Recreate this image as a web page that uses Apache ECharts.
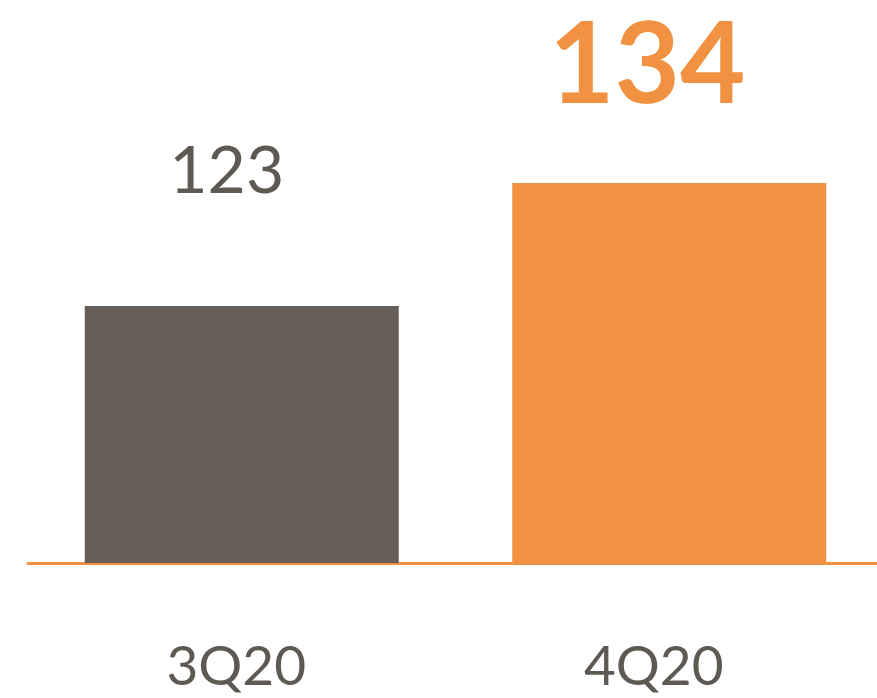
<!DOCTYPE html>
<html><head><meta charset="utf-8">
<script src="https://cdn.jsdelivr.net/npm/echarts@6/dist/echarts.min.js"></script>
<style>html,body{margin:0;padding:0;background:#fff}#c{width:877px;height:698px}</style>
</head><body><div id="c"></div>
<script>
const categories = ['3Q20', '4Q20'];
const values = [123, 134];
const gray = '#665e57';
const orange = '#f09242';
const chart = echarts.init(document.getElementById('c'));
const labelStyle = {color: '#5f5953', fontSize: 55, fontFamily: 'Lato'};
chart.setOption({
  animation: false,
  grid: {left: 28, width: 855, top: 116, bottom: 135, outerBoundsMode: 'none', containLabel: false},
  xAxis: {
    type: 'category', data: categories,
    axisLine: {lineStyle: {color: orange, width: 3}},
    axisTick: {show: false},
    axisLabel: {margin: 77,
      formatter: function (v, i) { return i === 0 ? '{a|' + v + '}' : '{b|' + v + '}'; },
      rich: {
        a: Object.assign({padding: [0, 11, 0, 0]}, labelStyle),
        b: Object.assign({padding: [0, 31, 0, 0]}, labelStyle)
      }}
  },
  yAxis: {type: 'value', min: 100, max: 140, show: false, splitLine: {show: false}},
  series: [{
    type: 'bar', barWidth: 314,
    data: [
      {value: values[0], itemStyle: {color: gray},
       label: {show: true, position: 'top', distance: 101, offset: [-15, 0], color: '#5f5953', fontSize: 66, fontFamily: 'Lato'}},
      {value: values[1], itemStyle: {color: orange},
       label: {show: true, position: 'top', distance: 60, offset: [-22, 0], color: orange, fontSize: 113, fontWeight: 'bold', fontFamily: 'Lato'}}
    ]
  }]
});
</script></body></html>
